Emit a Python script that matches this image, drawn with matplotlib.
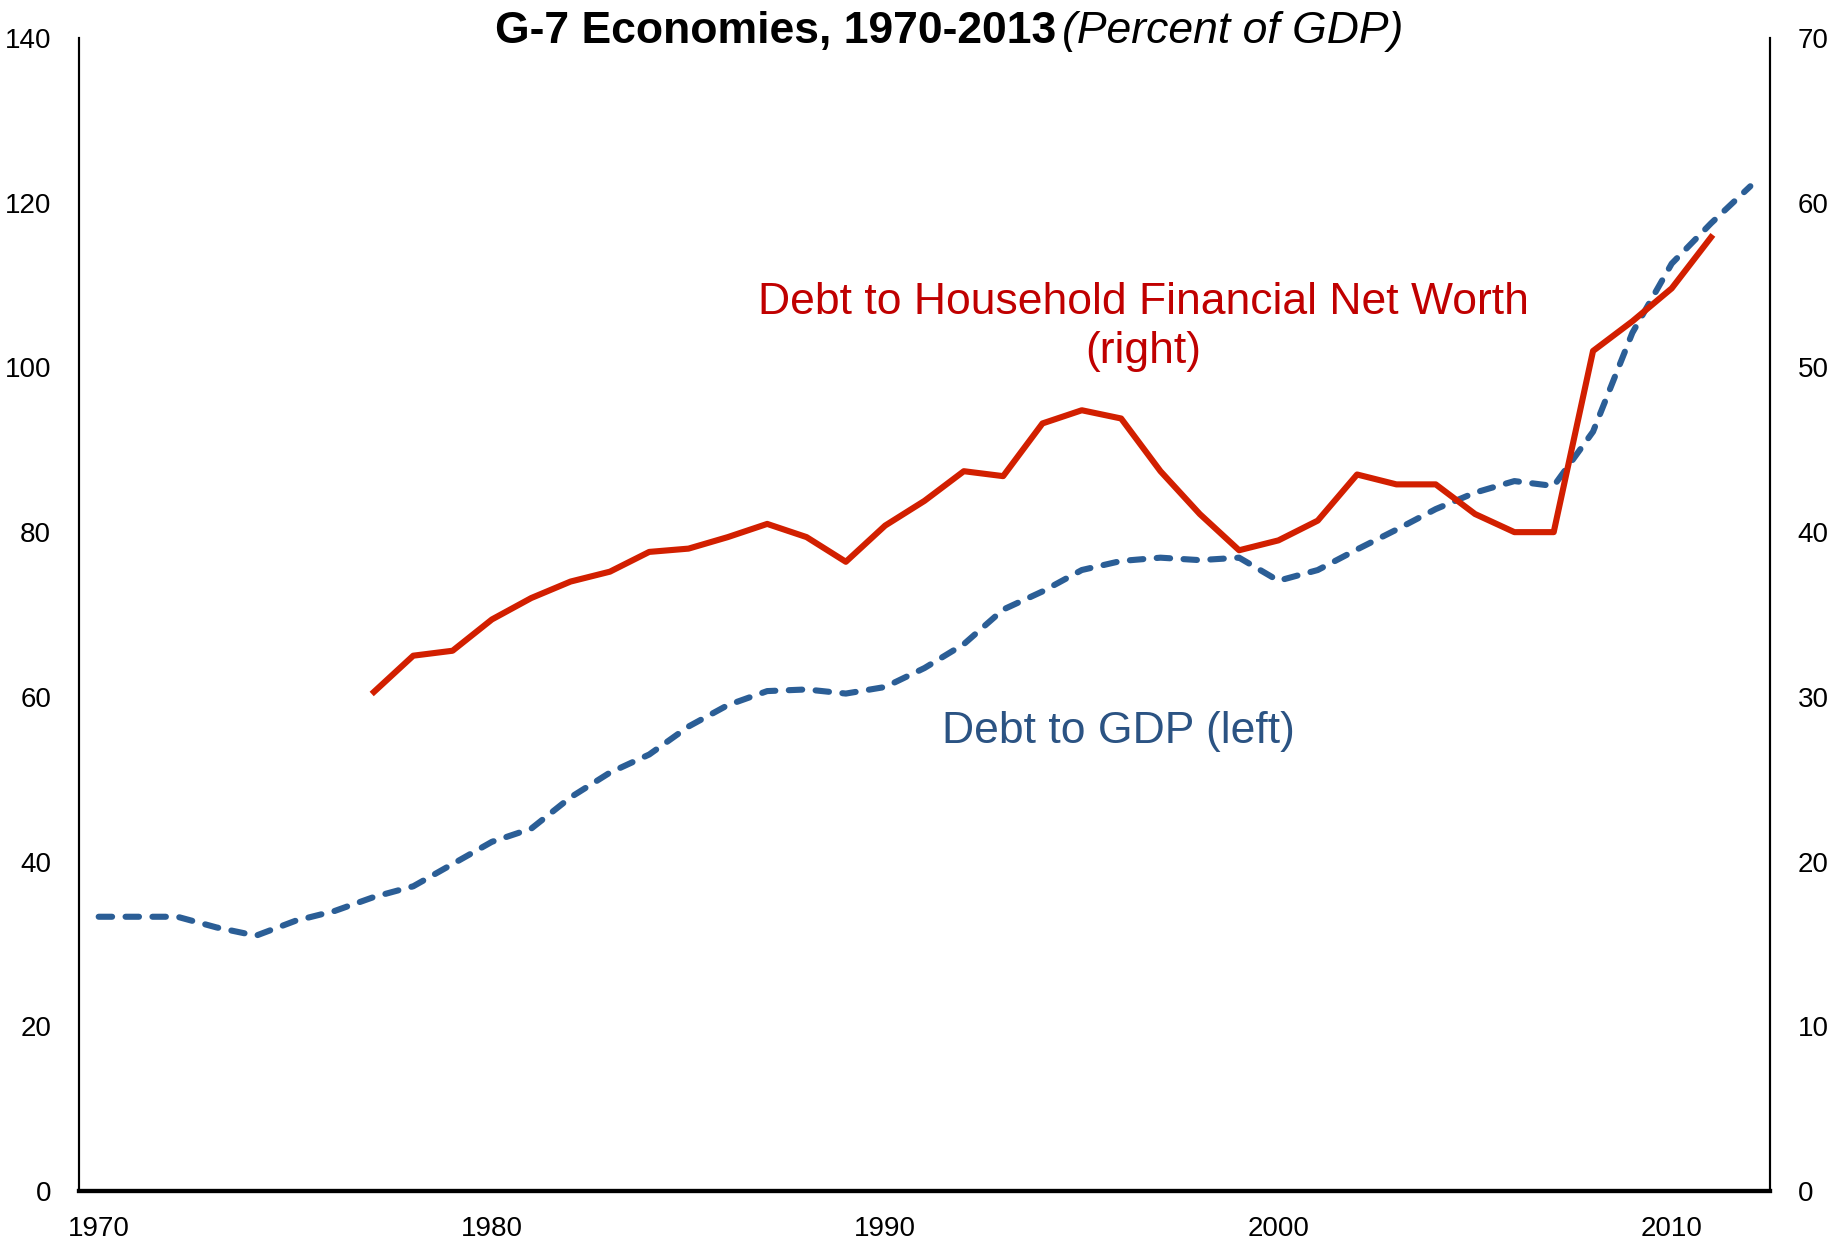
import numpy as np
import matplotlib
matplotlib.use("Agg")
import matplotlib.pyplot as plt

plt.rcParams['font.family'] = ['Liberation Sans', 'DejaVu Sans']

years = list(range(1970, 2013))
debt_gdp = [33.3, 33.3, 33.3, 32.0, 31.0, 32.8, 34.0, 35.7, 37.0, 39.7,
            42.4, 44.0, 47.8, 50.8, 53.0, 56.4, 59.0, 60.7, 60.9, 60.4,
            61.2, 63.5, 66.4, 70.6, 72.8, 75.4, 76.5, 76.9, 76.6, 76.9,
            74.1, 75.4, 77.9, 80.3, 82.8, 84.8, 86.2, 85.6, 92.2, 104.2,
            112.6, 117.5, 122.0]

hh_years = list(range(1977, 2012))
debt_networth = [30.3, 32.5, 32.8, 34.7, 36.0, 37.0, 37.6, 38.8, 39.0, 39.7,
                 40.5, 39.7, 38.2, 40.4, 41.9, 43.7, 43.4, 46.6, 47.4, 46.9,
                 43.7, 41.1, 38.9, 39.5, 40.7, 43.5, 42.9, 42.9, 41.1, 40.0,
                 40.0, 51.0, 52.8, 54.8, 57.9]

fig = plt.figure(figsize=(18.43, 12.40), dpi=100)
ax = fig.add_axes([79/1843, 1 - 1191/1240, (1770-79)/1843, (1191-38)/1240])
ax2 = ax.twinx()

ax.plot(years, debt_gdp, color='#2B5E96', lw=4.4, linestyle=(0, (2.2, 2.2)),
        dash_capstyle='round', zorder=2)
ax2.plot(hh_years, debt_networth, color='#D21F00', lw=4.4, zorder=3)

ax.set_xlim(1969.5, 2012.5)
ax.set_ylim(0, 140)
ax2.set_ylim(0, 70)
ax.set_xticks([1970, 1980, 1990, 2000, 2010])
ax.set_yticks(range(0, 141, 20))
ax2.set_yticks(range(0, 71, 10))

for a in (ax, ax2):
    a.spines['top'].set_visible(False)
    a.spines['left'].set_linewidth(1.5)
    a.spines['right'].set_linewidth(1.5)
    a.spines['bottom'].set_linewidth(3)
ax.tick_params(axis='y', length=0, pad=20, labelsize=20)
ax.tick_params(axis='x', length=0, pad=18, labelsize=20)
ax2.tick_params(axis='y', length=0, pad=20, labelsize=20)

fig.text(0.6205, 0.7365, 'Debt to Household Financial Net Worth\n(right)',
         ha='center', va='center', fontsize=32, color='#C00000', linespacing=1.25)
fig.text(0.607, 0.4104, 'Debt to GDP (left)',
         ha='center', va='center', fontsize=32, color='#2B5383')

fig.text(1056/1843, 1 - 31/1240, 'G-7 Economies, 1970-2013', ha='right', va='center',
         fontsize=32, fontweight='bold')
fig.text(1062/1843, 1 - 31/1240, '(Percent of GDP)', ha='left', va='center',
         fontsize=32, fontstyle='italic')

fig.savefig('out.png', dpi=100)
